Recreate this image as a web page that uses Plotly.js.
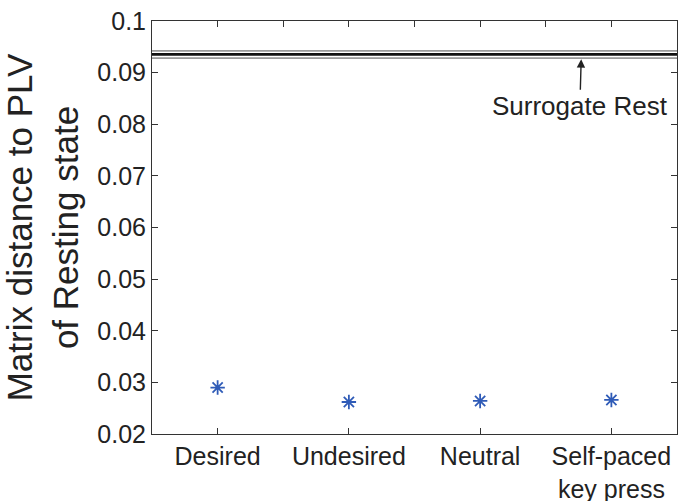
<!DOCTYPE html>
<html>
<head>
<meta charset="utf-8">
<script src="https://cdn.plot.ly/plotly-3.0.1.min.js"></script>
<style>html,body{margin:0;padding:0;background:#fff}#chart{width:685px;height:501px}</style>
</head>
<body>
<div id="chart"></div>
<script>
const categories = ["Desired", "Undesired", "Neutral", "Self-paced<br>key press"];
const categoryPos = [1, 2, 3, 4];
const distances = [0.0290, 0.0262, 0.0264, 0.0266];
const surrogateMean = 0.09355;
const surrogateUpper = 0.0942;
const surrogateLower = 0.0928;
const yTicks = [0.02, 0.03, 0.04, 0.05, 0.06, 0.07, 0.08, 0.09, 0.1];
const yTickText = ["0.02", "0.03", "0.04", "0.05", "0.06", "0.07", "0.08", "0.09", "0.1"];
const topTicks = [1, 1.5, 2, 2.5, 3, 3.5, 4];
const xSpan = [0.5, 4.5];

const font = "Liberation Sans, Arial, Helvetica, sans-serif";
const ink = "#222";

const traces = [
  {x: xSpan, y: [surrogateUpper, surrogateUpper], mode: "lines", line: {color: "#999", width: 1.8}, hoverinfo: "skip", showlegend: false},
  {x: xSpan, y: [surrogateLower, surrogateLower], mode: "lines", line: {color: "#999", width: 1.8}, hoverinfo: "skip", showlegend: false},
  {x: xSpan, y: [surrogateMean, surrogateMean], mode: "lines", line: {color: "#111", width: 2.8}, hoverinfo: "skip", showlegend: false},
  {x: categoryPos, y: distances, mode: "markers", marker: {symbol: "asterisk-open", size: 12, line: {color: "#2f5bb7", width: 1.8}, color: "#2f5bb7"}, showlegend: false},
  {x: [1], y: [0.05], xaxis: "x2", yaxis: "y", mode: "markers", marker: {opacity: 0}, hoverinfo: "skip", showlegend: false}
];

const layout = {
  width: 685, height: 501,
  margin: {l: 152, r: 8, t: 21, b: 67},
  paper_bgcolor: "#fff", plot_bgcolor: "#fff",
  font: {family: font, color: ink, size: 25},
  xaxis: {
    range: xSpan, tickvals: categoryPos, ticktext: categories,
    ticks: "inside", ticklen: 6, tickcolor: "#333", tickwidth: 1,
    showline: true, linecolor: "#333", linewidth: 1, mirror: true,
    showgrid: false, zeroline: false,
    tickfont: {family: font, size: 25, color: ink}
  },
  xaxis2: {
    range: xSpan, overlaying: "x", side: "top", tickvals: topTicks, showticklabels: false,
    ticks: "inside", ticklen: 6, tickcolor: "#333", tickwidth: 1,
    showline: false, showgrid: false, zeroline: false
  },
  yaxis: {
    range: [0.02, 0.1], tickvals: yTicks, ticktext: yTickText,
    ticks: "inside", ticklen: 6, tickcolor: "#333", tickwidth: 1,
    showline: true, linecolor: "#333", linewidth: 1, mirror: "ticks",
    showgrid: false, zeroline: false,
    tickfont: {family: font, size: 25, color: ink},
    title: {text: "Matrix distance to PLV<br>of Resting state", font: {family: font, size: 35, color: ink}, standoff: 16}
  },
  annotations: [{
    x: 3.77, y: surrogateLower - 0.0002, xref: "x", yref: "y",
    ax: 3.76, ay: 0.0835, axref: "x", ayref: "y",
    text: "Surrogate Rest", showarrow: true,
    arrowhead: 2, arrowsize: 1.2, arrowwidth: 1.4, arrowcolor: "#222",
    font: {family: font, size: 26, color: ink}
  }]
};

Plotly.newPlot("chart", traces, layout, {displayModeBar: false, staticPlot: true});
</script>
</body>
</html>
